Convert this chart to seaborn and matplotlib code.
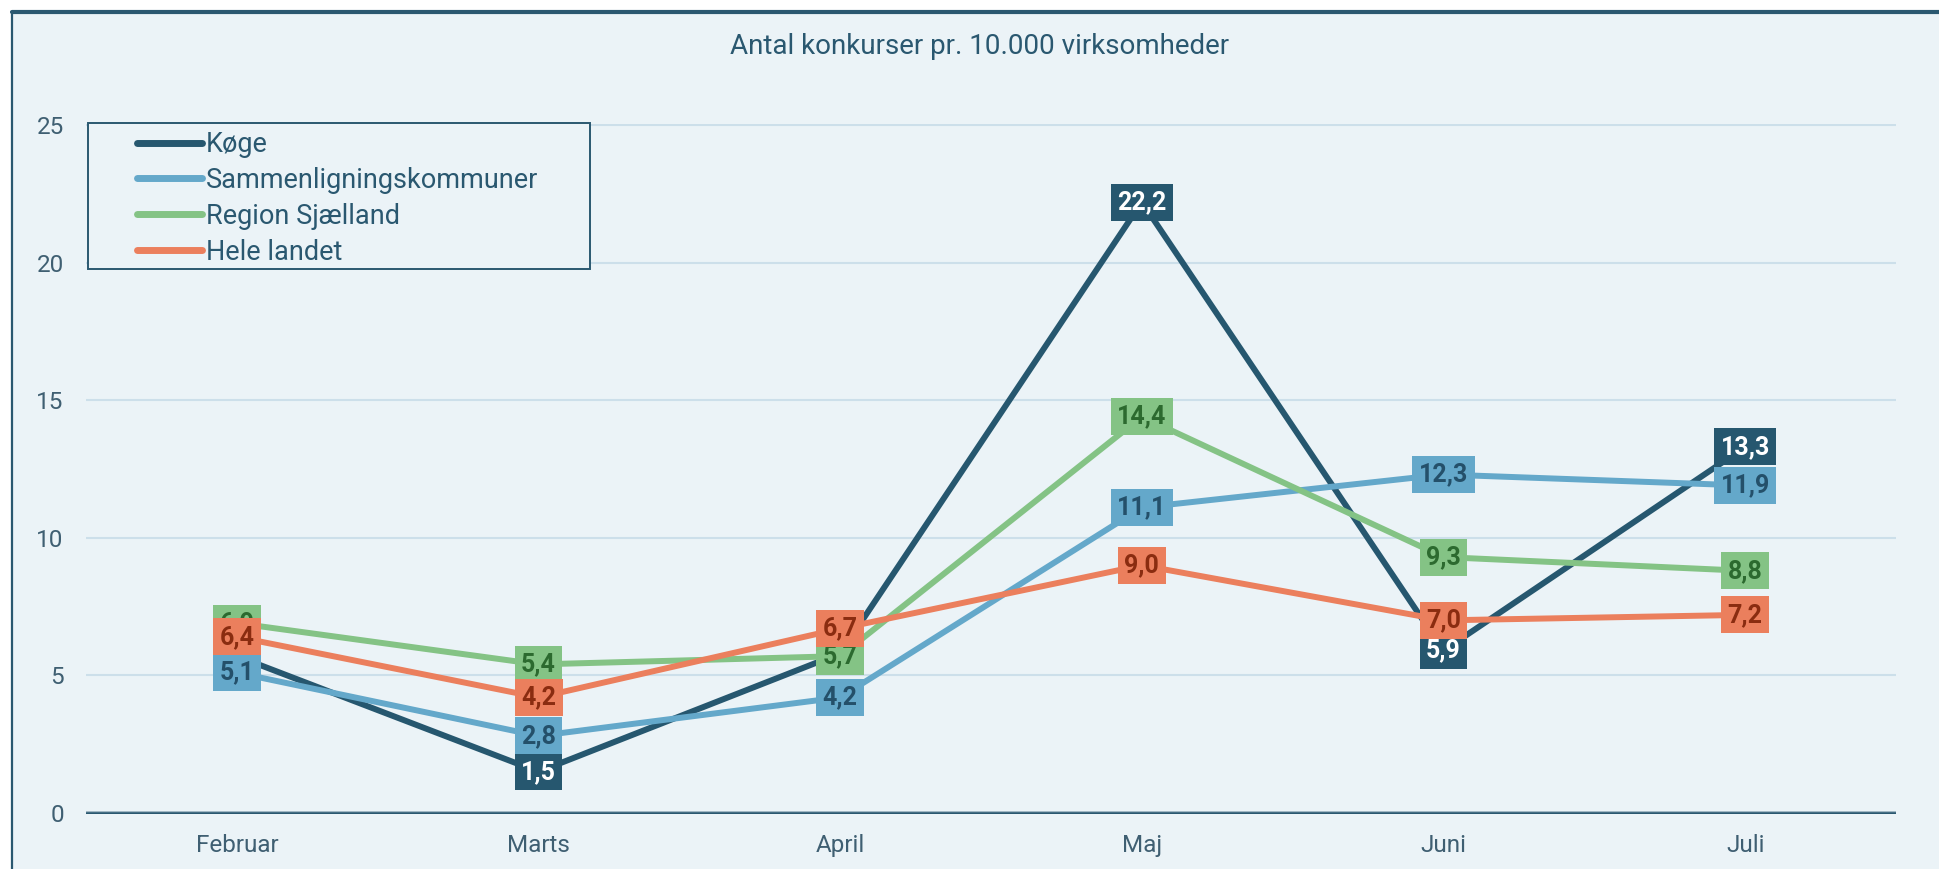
import matplotlib
matplotlib.use("Agg")
import numpy as np
import pandas as pd
import matplotlib.pyplot as plt
import seaborn as sns
from matplotlib.patches import Rectangle
from matplotlib.lines import Line2D

# ---------------- data ----------------
months = ["Februar", "Marts", "April", "Maj", "Juni", "Juli"]
series_names = ["Køge", "Sammenligningskommuner", "Region Sjælland", "Hele landet"]
koege = [5.7, 1.5, 5.8, 22.2, 5.9, 13.3]
sammen = [5.1, 2.8, 4.2, 11.1, 12.3, 11.9]
region = [6.9, 5.4, 5.7, 14.4, 9.3, 8.8]
hele = [6.4, 4.2, 6.7, 9.0, 7.0, 7.2]
title = "Antal konkurser pr. 10.000 virksomheder"
yticks = [0, 5, 10, 15, 20, 25]

# ---------------- style ----------------
line_colors = ["#26576F", "#64A8CA", "#84C385", "#EB7F5D"]
label_text_colors = ["#FFFFFF", "#24506A", "#2C6A2F", "#8A2C10"]
bg = "#EBF3F7"
dark = "#2A5870"
text_col = "#3F5F72"
grid_col = "#CCDFEA"

values = [koege, sammen, region, hele]
rows = []
for name, vals in zip(series_names, values):
    for m, v in zip(months, vals):
        rows.append({"Måned": m, "Værdi": v, "Serie": name})
df = pd.DataFrame(rows)

sns.set_style("white")
plt.rcParams["font.family"] = ["Roboto", "DejaVu Sans"]

W, H = 1939, 869
fig = plt.figure(figsize=(W / 100, H / 100), dpi=100, facecolor="white")

def fx(px):
    return px / W

def fy(py):
    return 1 - py / H

ymin, ymax = -0.05, 25.05
ppu = (813 - 125) / 25.0
ax_bottom_px = 813 + (0 - ymin) * ppu
ax_top_px = 125 - (ymax - 25) * ppu
ax_left_px, ax_right_px = 86, 1896
ax = fig.add_axes([fx(ax_left_px), fy(ax_bottom_px),
                   fx(ax_right_px) - fx(ax_left_px), fy(ax_top_px) - fy(ax_bottom_px)])
ax.set_facecolor("none")

def axx(px):
    return (px - ax_left_px) / (ax_right_px - ax_left_px)

def axy(py):
    return (ax_bottom_px - py) / (ax_bottom_px - ax_top_px)

# panel background and frame
fig.add_artist(Rectangle((fx(12), 0), 1 - fx(12), fy(12), transform=fig.transFigure,
                         facecolor=bg, edgecolor="none", zorder=-10))
fig.add_artist(Line2D([fx(12), 1], [fy(12), fy(12)], transform=fig.transFigure,
                      color=dark, lw=3, zorder=-5))
fig.add_artist(Line2D([fx(12), fx(12)], [0, fy(12)], transform=fig.transFigure,
                      color=dark, lw=1.6, zorder=-5))

sns.lineplot(data=df, x="Måned", y="Værdi", hue="Serie", hue_order=series_names,
             palette=line_colors, linewidth=4.3, sort=False, ax=ax, legend=True)

ax.set_xlim(-0.5, 5.5)
ax.set_ylim(ymin, ymax)
ax.set_yticks(yticks)
ax.set_yticklabels([str(t) for t in yticks])
ax.set_xlabel("")
ax.set_ylabel("")
for s in ax.spines.values():
    s.set_visible(False)
ax.set_axisbelow(True)
ax.yaxis.grid(True, color=grid_col, lw=1.5)
ax.xaxis.grid(False)
ax.axhline(0, color="#9DB4C1", lw=3.5, zorder=1.5)
ax.axhline(0, color=dark, lw=1.8, zorder=1.6)
ax.tick_params(axis="both", length=0, labelsize=17.5, labelcolor=text_col)
ax.tick_params(axis="y", pad=16)
ax.tick_params(axis="x", pad=14)
for lbl in ax.get_xticklabels() + ax.get_yticklabels():
    lbl.set_fontweight("normal")

# data labels
for k, vals in enumerate(values):
    for i, v in enumerate(vals):
        ax.text(i, v, f"{v:.1f}".replace(".", ","), ha="center", va="center",
                fontsize=18, fontweight="bold", color=label_text_colors[k],
                zorder=10 + k,
                bbox=dict(boxstyle="square,pad=0.26", facecolor=line_colors[k],
                          edgecolor="none"))

# legend
handles, labels = ax.get_legend_handles_labels()
ax.add_patch(Rectangle((axx(88), axy(269)), axx(590) - axx(88), axy(123) - axy(269),
                       transform=ax.transAxes, facecolor=bg, edgecolor=dark, lw=1.4,
                       clip_on=False, zorder=4))
leg = ax.legend(handles, labels, loc="upper left",
                bbox_to_anchor=(axx(137), axy(131)), borderaxespad=0, borderpad=0,
                frameon=False, fontsize=19.5, handlelength=2.4, handletextpad=0.15,
                labelspacing=0.33, title=None)
leg.set_zorder(5)
for h in leg.legend_handles:
    h.set_linewidth(5)
    h.set_solid_capstyle("round")
for t in leg.get_texts():
    t.set_color(dark)

fig.text(fx(980), fy(46), title, ha="center", va="center", fontsize=20,
         color=dark, fontweight="normal")

fig.savefig("out.png", dpi=100, facecolor="white")
